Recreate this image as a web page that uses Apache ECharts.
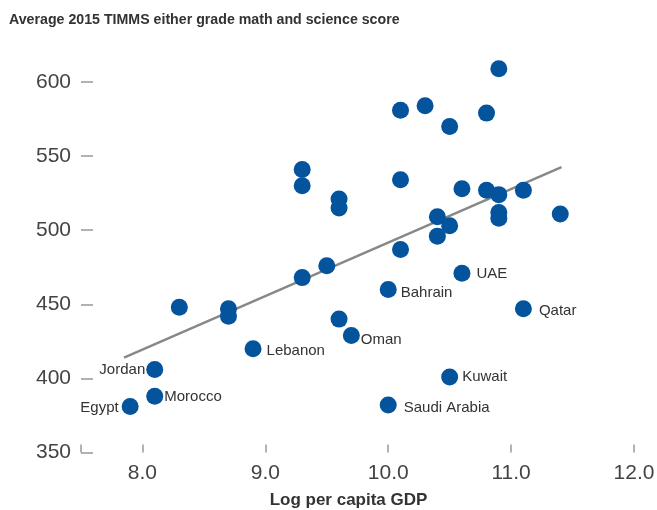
<!DOCTYPE html>
<html>
<head>
<meta charset="utf-8">
<script src="https://cdn.jsdelivr.net/npm/echarts@6/dist/echarts.min.js"></script>
<style>
html,body{margin:0;padding:0;background:#fff;}
#chart{width:657px;height:510px;}
</style>
</head>
<body>
<div id="chart"></div>
<script>
// ---- data ----
const gdp = [10.9,10.1,10.3,10.5,10.8,9.3,9.3,9.6,9.6,10.1,10.6,10.8,10.9,11.1,11.4,10.9,10.9,10.4,10.5,10.4,10.1,9.5,9.3,10.6,10.0,8.3,8.7,8.7,11.1,9.6,9.7,8.9,8.1,8.1,7.9,10.5,10.0];
const score = [609,581,584,570,579,541,530,521,515,534,528,527,524,527,511,512,508,509,503,496,487,476,468,471,460,448,447,442,447,440,429,420,406,388,381,401,382];
const country = ['','','','','','','','','','','','','','','','','','','','','','','','UAE','Bahrain','','','','Qatar','','Oman','Lebanon','Jordan','Morocco','Egypt','Kuwait','Saudi Arabia'];
const trendX = [7.85, 11.41];
const trendY = [414, 542.6];
const xTickValues = [7.5, 8, 9, 10, 11, 12];
const xLabelValues = [8, 9, 10, 11, 12];
const titleText = 'Average 2015 TIMMS either grade math and science score';
const xName = 'Log per capita GDP';

// ---- label styling (placement only) ----
const labelPlace = {
  'Jordan': {position:'left', distance:1, offset:[0,0]},
  'Egypt': {position:'left', distance:3, offset:[0,1]},
  'Morocco': {position:'right', distance:1, offset:[0,1]},
  'Lebanon': {position:'right', distance:5, offset:[0,2]},
  'Oman': {position:'right', distance:1, offset:[0,4]},
  'Bahrain': {position:'right', distance:4, offset:[0,3]},
  'UAE': {position:'right', distance:6, offset:[0,1]},
  'Qatar': {position:'right', distance:7, offset:[0,2]},
  'Kuwait': {position:'right', distance:4, offset:[0,0]},
  'Saudi Arabia': {position:'right', distance:7, offset:[0,3]}
};

const FONT = '"Liberation Sans", Arial, Helvetica, sans-serif';

const pts = gdp.map((g, i) => {
  const item = { value: [g, score[i]], name: country[i] };
  if (country[i]) {
    const p = labelPlace[country[i]];
    item.label = {
      show: true, formatter: country[i], position: p.position,
      distance: p.distance, offset: p.offset,
      fontSize: 15, color: '#333', fontFamily: FONT
    };
  }
  return item;
});

const chart = echarts.init(document.getElementById('chart'), null, {renderer:'canvas'});
chart.setOption({
  animation: false,
  backgroundColor: '#fff',
  title: {
    text: titleText, left: 9, top: 13, padding: 0,
    textStyle: {fontSize: 14.2, fontWeight: 'bold', color: '#333', fontFamily: FONT}
  },
  grid: {left: 81, right: 23, top: 82, bottom: 57.5, containLabel: false, outerBoundsMode: 'none'},
  xAxis: {
    type: 'value', min: 7.5, max: 12,
    name: xName, nameLocation: 'middle', nameGap: 39,
    nameTextStyle: {fontSize: 17, fontWeight: 'bold', color: '#333', fontFamily: FONT, padding: [0, 18, 0, 0]},
    axisLine: {show: false},
    splitLine: {show: false},
    axisTick: {show: true, inside: true, length: 8, customValues: xTickValues, lineStyle: {color: '#999', width: 1.5}},
    axisLabel: {customValues: xLabelValues, formatter: v => v.toFixed(1), fontSize: 21, color: '#444', fontFamily: FONT, margin: 10}
  },
  yAxis: {
    type: 'value', min: 350, max: 600, interval: 50,
    axisLine: {show: false},
    splitLine: {show: false},
    axisTick: {show: true, inside: true, length: 12, lineStyle: {color: '#999', width: 1.5}},
    axisLabel: {fontSize: 21, color: '#444', fontFamily: FONT, margin: 10}
  },
  series: [
    {
      type: 'line',
      data: trendX.map((x, i) => [x, trendY[i]]),
      symbol: 'none',
      lineStyle: {color: '#888', width: 2.5},
      z: 1, silent: true
    },
    {
      type: 'scatter',
      data: pts,
      symbolSize: 17,
      clip: false,
      itemStyle: {color: '#03539d', opacity: 1},
      z: 3
    }
  ]
});
</script>
</body>
</html>
